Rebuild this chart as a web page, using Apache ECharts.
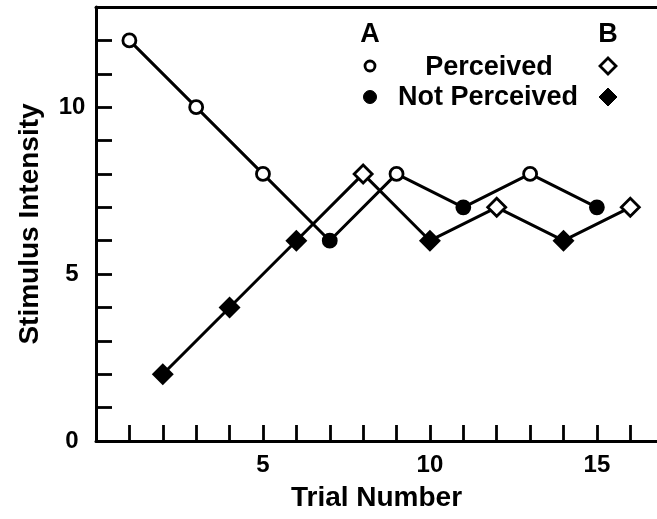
<!DOCTYPE html>
<html>
<head>
<meta charset="utf-8">
<script src="https://cdn.jsdelivr.net/npm/echarts@6/dist/echarts.min.js"></script>
<style>html,body{margin:0;padding:0;background:#fff}#c{width:657px;height:519px}</style>
</head>
<body>
<div id="c"></div>
<script>
// Data
var trialsA = [1, 3, 5, 7, 9, 11, 13, 15];
var intensityA = [12, 10, 8, 6, 8, 7, 8, 7];
var perceivedA = [true, true, true, false, true, false, true, false];
var trialsB = [2, 4, 6, 8, 10, 12, 14, 16];
var intensityB = [2, 4, 6, 8, 6, 7, 6, 7];
var perceivedB = [false, false, false, true, false, true, false, true];
var xTickLabels = [5, 10, 15];
var yTickLabels = [0, 5, 10];

var FONT = '"Liberation Sans", Arial, Helvetica, sans-serif';

function build(xs, ys, flags) {
  return xs.map(function (x, i) {
    return {
      value: [x, ys[i]],
      itemStyle: { color: flags[i] ? '#fff' : '#000', borderColor: '#000', borderWidth: 2.8 }
    };
  });
}

var chart = echarts.init(document.getElementById('c'), null, { renderer: 'canvas' });
chart.setOption({
  animation: false,
  backgroundColor: '#fff',
  grid: { left: 96, right: 0, top: 7, bottom: 78, containLabel: false },
  xAxis: [{
    type: 'value', min: 0, max: 16.8, interval: 1,
    name: 'Trial Number', nameLocation: 'middle', nameGap: 43,
    nameTextStyle: { fontFamily: FONT, fontWeight: 'bold', fontSize: 28, color: '#000' },
    axisLine: { show: true, onZero: false, lineStyle: { color: '#000', width: 3 } },
    axisTick: { show: true, inside: true, length: 16, lineStyle: { color: '#000', width: 2.8 } },
    axisLabel: {
      margin: 12, fontFamily: FONT, fontWeight: 'bold', fontSize: 24, color: '#000',
      showMaxLabel: false,
      formatter: function (v) { return xTickLabels.indexOf(v) >= 0 ? String(v) : ''; }
    },
    splitLine: { show: false }
  }, {
    type: 'value', position: 'top', min: 0, max: 16.8,
    axisLine: { show: true, onZero: false, lineStyle: { color: '#000', width: 3 } },
    axisTick: { show: false }, axisLabel: { show: false }, splitLine: { show: false }
  }],
  yAxis: {
    type: 'value', min: 0, max: 13, interval: 1,
    name: 'Stimulus Intensity', nameLocation: 'middle', nameGap: 52,
    nameTextStyle: { fontFamily: FONT, fontWeight: 'bold', fontSize: 28, color: '#000' },
    axisLine: { show: true, onZero: false, lineStyle: { color: '#000', width: 3 } },
    axisTick: { show: true, inside: true, length: 16, lineStyle: { color: '#000', width: 2.8 } },
    axisLabel: {
      margin: 24, align: 'center', fontFamily: FONT, fontWeight: 'bold', fontSize: 24, color: '#000',
      formatter: function (v) { return yTickLabels.indexOf(v) >= 0 ? String(v) : ''; }
    },
    splitLine: { show: false }
  },
  series: [{
    name: 'A', type: 'line', xAxisIndex: 0,
    data: build(trialsA, intensityA, perceivedA),
    symbol: 'circle', symbolSize: 13,
    lineStyle: { color: '#000', width: 3 },
    z: 3
  }, {
    name: 'B', type: 'line', xAxisIndex: 0,
    data: build(trialsB, intensityB, perceivedB),
    symbol: 'diamond', symbolSize: 18,
    lineStyle: { color: '#000', width: 3 },
    z: 3
  }],
  graphic: [
    { type: 'text', x: 370, y: 35, style: { text: 'A', align: 'center', verticalAlign: 'middle', font: 'bold 27px ' + FONT, fill: '#000' } },
    { type: 'text', x: 608, y: 35, style: { text: 'B', align: 'center', verticalAlign: 'middle', font: 'bold 27px ' + FONT, fill: '#000' } },
    { type: 'text', x: 489, y: 68, style: { text: 'Perceived', align: 'center', verticalAlign: 'middle', font: 'bold 27px ' + FONT, fill: '#000' } },
    { type: 'text', x: 488, y: 98, style: { text: 'Not Perceived', align: 'center', verticalAlign: 'middle', font: 'bold 27px ' + FONT, fill: '#000' } },
    { type: 'circle', shape: { cx: 370, cy: 66, r: 5 }, style: { fill: '#fff', stroke: '#000', lineWidth: 2.8 } },
    { type: 'circle', shape: { cx: 370, cy: 97, r: 6.5 }, style: { fill: '#000', stroke: '#000', lineWidth: 1 } },
    { type: 'polygon', shape: { points: [[608, 58], [616, 66], [608, 74], [600, 66]] }, style: { fill: '#fff', stroke: '#000', lineWidth: 2.8 } },
    { type: 'polygon', shape: { points: [[608, 88], [617, 97], [608, 106], [599, 97]] }, style: { fill: '#000', stroke: '#000', lineWidth: 1 } }
  ]
});
</script>
</body>
</html>
